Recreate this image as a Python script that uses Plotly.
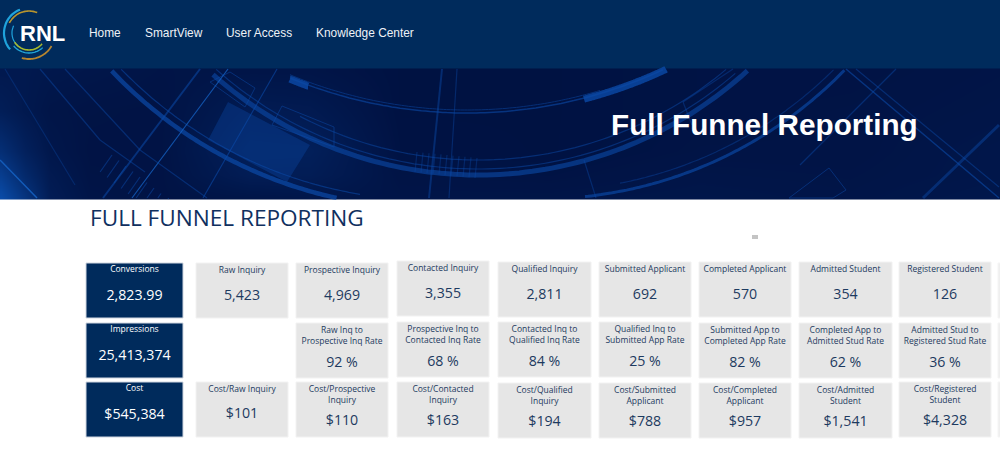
import numpy as np
import plotly.graph_objects as go

# tile contents
side_titles = ['Conversions', 'Impressions', 'Cost']
side_values = ['2,823.99', '25,413,374', '$545,384']

count_titles = ['Raw Inquiry', 'Prospective Inquiry', 'Contacted Inquiry', 'Qualified Inquiry',
                'Submitted Applicant', 'Completed Applicant', 'Admitted Student', 'Registered Student']
count_values = ['5,423', '4,969', '3,355', '2,811', '692', '570', '354', '126']

rate_titles = ['Raw Inq to<br>Prospective Inq Rate', 'Prospective Inq to<br>Contacted Inq Rate',
               'Contacted Inq to<br>Qualified Inq Rate', 'Qualified Inq to<br>Submitted App Rate',
               'Submitted App to<br>Completed App Rate', 'Completed App to<br>Admitted Stud Rate',
               'Admitted Stud to<br>Registered Stud Rate']
rate_values = ['92 %', '68 %', '84 %', '25 %', '82 %', '62 %', '36 %']

cost_titles = ['Cost/Raw Inquiry', 'Cost/Prospective<br>Inquiry', 'Cost/Contacted<br>Inquiry',
               'Cost/Qualified<br>Inquiry', 'Cost/Submitted<br>Applicant', 'Cost/Completed<br>Applicant',
               'Cost/Admitted<br>Student', 'Cost/Registered<br>Student']
cost_values = ['$101', '$110', '$163', '$194', '$788', '$957', '$1,541', '$4,328']

nav_labels = ['Home', 'SmartView', 'User Access', 'Knowledge Center']

# page geometry, in screen pixels
col_left = [196, 296, 397, 498, 599, 699, 799, 899]
col_right = [288, 388, 489, 591, 691, 791, 892, 991]
count_top = [263, 263, 261, 262, 262, 262, 262, 262]
rate_top = [323, 322, 322, 322, 323, 323, 323]
cost_top = [382, 382, 382, 383, 383, 383, 383, 382]
tile_h = 55
side_top = [263, 323, 382]
nav_x = [87, 143, 224, 314]

NAVY = '#002b5c'
GREY = '#e6e6e6'
INK = '#1d3a60'
SANS = 'Open Sans'

# soft background of the banner
glow_x = [0, 1, 25, 50, 90, 160, 250, 310, 400, 550, 700, 850, 999, 1000]
glow_y = [69, 70, 110, 150, 175, 198, 199]
glow_z = [[.14, .14, .14, .12, .10, .07, .08, .08, .03, .03, .05, .05, .07, .07],
          [.14, .14, .14, .12, .10, .07, .08, .08, .03, .03, .05, .05, .07, .07],
          [.22, .22, .14, .08, .06, .05, .18, .16, .03, .03, .05, .06, .08, .08],
          [.48, .48, .26, .11, .05, .05, .25, .24, .04, .03, .06, .06, .10, .10],
          [.72, .72, .40, .16, .06, .05, .20, .20, .06, .05, .08, .07, .10, .10],
          [.95, .95, .58, .20, .08, .05, .08, .10, .08, .08, .10, .08, .12, .12],
          [.95, .95, .58, .20, .08, .05, .08, .10, .08, .08, .10, .08, .12, .12]]


def arc(cx, cy, r, x0, x1, color='#0b4aa8', width=1.5, opacity=.6):
    xs = np.linspace(x0, x1, 90)
    ys = cy + np.sqrt(np.maximum(r ** 2 - (xs - cx) ** 2, 0))
    keep = (ys >= 69) & (ys <= 198)
    pts = [f'{a:.1f},{b:.1f}' for a, b in zip(xs[keep], ys[keep])]
    return dict(type='path', path='M' + ' L'.join(pts), line=dict(color=color, width=width),
                opacity=opacity, xref='x', yref='y')


def seg(x0, y0, x1, y1, color='#0b4aa8', width=1.2, opacity=.6):
    return dict(type='line', x0=x0, y0=y0, x1=x1, y1=y1, line=dict(color=color, width=width),
                opacity=opacity, xref='x', yref='y')


def poly(points, fill=None, color='#0b4aa8', width=1, opacity=.5):
    path = 'M' + ' L'.join(f'{a},{b}' for a, b in points) + ' Z'
    return dict(type='path', path=path, fillcolor=fill or 'rgba(0,0,0,0)', line=dict(color=color, width=width),
                opacity=opacity, xref='x', yref='y')


def ring(cx, cy, r, a0, a1, color, width=1.6):
    t = np.radians(np.linspace(a0, a1, 30))
    pts = [f'{cx + r * np.cos(v):.1f},{cy + r * np.sin(v):.1f}' for v in t]
    return dict(type='path', path='M' + ' L'.join(pts), line=dict(color=color, width=width), xref='x', yref='y')


shapes = [
    dict(type='rect', x0=0, x1=1000, y0=0, y1=69, fillcolor=NAVY, line_width=0, layer='below', xref='x', yref='y'),
    dict(type='rect', x0=752, x1=758, y0=235, y1=239, fillcolor='#c4c4c4', line_width=0, xref='x', yref='y'),
]

# lighter panel and outlined boxes
shapes += [
    poly([(228, 102), (208, 140), (287, 182), (310, 145)], fill='#0b4aa8', width=0, opacity=.35),
    poly([(230, 72), (255, 88), (245, 107), (210, 82)], opacity=.5),
    poly([(272, 125), (282, 106), (334, 127), (334, 147)], opacity=.5),
    poly([(829, 168), (846, 190), (833, 198), (789, 198)], opacity=.5),
]

# big rings
shapes += [
    arc(478, -225, 400, 200, 780, width=5, opacity=.6),
    arc(478, -225, 394, 210, 760, width=1.2, opacity=.5),
    arc(478, -225, 385, 300, 780, width=1.2, opacity=.5),
    arc(430, -230, 438, 100, 360, width=4.5, opacity=.7),
    arc(430, -230, 430, 110, 360, width=1.2, opacity=.55),
    arc(540, -225, 424, 585, 870, width=3, opacity=.65),
    arc(540, -225, 416, 620, 870, width=1.2, opacity=.4),
    arc(467, -352, 465, 290, 667, width=1.5, opacity=.6),
    arc(467, -352, 462, 290, 600, width=1, opacity=.5),
    arc(467, -352, 466, 584, 670, width=7, opacity=.8),
    arc(467, -352, 466, 290, 308, width=7, opacity=.8),
]

# thin straight lines
shapes += [
    seg(228, 69, 132, 198, color='#1560c0', opacity=.8),
    seg(200, 69, 103, 198, opacity=.55, width=2),
    seg(277, 69, 203, 198, opacity=.6),
    seg(442, 69, 429, 198, opacity=.45, width=2),
    seg(457, 69, 449, 198, opacity=.4),
    seg(5, 69, 75, 185, opacity=.35),
    seg(40, 69, 100, 140, opacity=.45),
    seg(100, 140, 145, 172, opacity=.45),
    seg(65, 69, 140, 150, opacity=.45),
    seg(140, 150, 207, 198, opacity=.45),
    seg(0, 160, 37, 198, color='#1560c0', opacity=.9, width=1.5),
    seg(846, 69, 999, 198, opacity=.6, width=1.5),
    seg(856, 69, 999, 187, opacity=.45),
    seg(896, 69, 800, 165, opacity=.45),
    seg(999, 125, 923, 198, opacity=.45, width=3),
    seg(683, 102, 733, 69, opacity=.4),
    seg(683, 102, 692, 125, opacity=.4),
    seg(584, 160, 596, 198, opacity=.4),
]

# comb details on the rings
for i in range(11):
    shapes.append(seg(417 + i * 6, 152 + i * .6, 415 + i * 6, 172 + i * .6, opacity=.35))
for i in range(9):
    top = 155 + i * 5.5
    low = min(172 + i * 5.5, 198)
    shapes.append(seg(112 + i * 7, top, 112 + i * 7 - (low - top) * .7, low, opacity=.5))

# logo
shapes += [
    ring(29, 33, 25, 139, 249, '#1fa3dc', 2.2),
    ring(29, 33, 22, 207, 292, '#b8952e', 1.6),
    ring(29, 33, 17, 130, 205, '#1fa3dc', 1.2),
    ring(29, 33, 17, 40, 147, '#a7bb2c', 1.6),
    ring(29, 33, 20, 47, 140, '#22a6d9', 1.3),
    ring(29, 33, 26, 30, 106, '#b8862e', 1.8),
]

fig = go.Figure()

fig.add_trace(go.Heatmap(x=glow_x, y=glow_y, z=glow_z, zsmooth='best', showscale=False, zmin=0, zmax=1,
                         colorscale=[[0, '#00103f'], [1, '#0a4fae']], hoverinfo='skip'))


def tile_bars(left, right, top, color, border):
    left, right = np.array(left), np.array(right)
    fig.add_trace(go.Bar(x=(left + right) / 2, y=[tile_h] * len(left), base=top, width=right - left,
                         marker=dict(color=color, line=dict(color=border, width=1)), hoverinfo='skip'))


def tile_text(xs, ys, labels, size, color):
    fig.add_trace(go.Scatter(x=xs, y=ys, text=labels, mode='text', textposition='middle center',
                             textfont=dict(family=SANS, size=size, color=color), hoverinfo='skip'))


tile_bars([86] * 3, [183] * 3, side_top, NAVY, '#cfd6e0')
tile_bars(col_left, col_right, count_top, GREY, '#f2f2f2')
tile_bars(col_left[1:], col_right[1:], rate_top, GREY, '#f2f2f2')
tile_bars(col_left, col_right, cost_top, GREY, '#f2f2f2')
tile_bars([998] * 3, [1006] * 3, side_top, '#efefef', '#f5f5f5')

centers = [(a + b) / 2 for a, b in zip(col_left, col_right)]
side_cx = [134.5] * 3

tile_text(side_cx, [t + 7 for t in side_top], side_titles, 8.5, 'white')
tile_text(side_cx, [t + 33.5 for t in side_top], side_values, 14.2, 'white')

tile_text(centers, [t + 7.5 for t in count_top], count_titles, 8.5, INK)
tile_text(centers, [t + 33.5 for t in count_top], count_values, 14.2, INK)

tile_text(centers[1:], [t + 13 for t in rate_top], rate_titles, 8.5, INK)
tile_text(centers[1:], [t + 40.5 for t in rate_top], rate_values, 14.2, INK)

cost_label_y = [t + 7.5 if i == 0 else t + 13.5 for i, t in enumerate(cost_top)]
cost_value_y = [t + 32.5 if i == 0 else t + 39.5 for i, t in enumerate(cost_top)]
tile_text(centers, cost_label_y, cost_titles, 8.5, INK)
tile_text(centers, cost_value_y, cost_values, 14.2, INK)

annotations = [
    dict(x=x, y=33, text=t, xanchor='left', showarrow=False, xref='x', yref='y',
         font=dict(family='Liberation Sans', size=11.9, color='#eef2f7'))
    for x, t in zip(nav_x, nav_labels)
]
annotations += [
    dict(x=42, y=33, text='<b>RNL</b>', showarrow=False, xref='x', yref='y',
         font=dict(family='Liberation Sans', size=22, color='white')),
    dict(x=764, y=124, text='<b>Full Funnel Reporting</b>', showarrow=False, xref='x', yref='y',
         font=dict(family='Liberation Sans', size=29.7, color='white')),
    dict(x=88, y=217, text='FULL FUNNEL REPORTING', xanchor='left', showarrow=False, xref='x', yref='y',
         font=dict(family=SANS, size=22.6, color='#10305f')),
]

fig.update_layout(
    width=1000, height=457, margin=dict(l=0, r=0, t=0, b=0), showlegend=False, barmode='overlay',
    paper_bgcolor='white', plot_bgcolor='white', shapes=shapes, annotations=annotations,
    xaxis=dict(range=[0, 1000], visible=False, fixedrange=True),
    yaxis=dict(range=[457, 0], visible=False, fixedrange=True),
)

fig.write_html("out.html", config=dict(displayModeBar=False),
               post_script="document.body.style.margin='0';document.body.style.overflow='hidden';")
